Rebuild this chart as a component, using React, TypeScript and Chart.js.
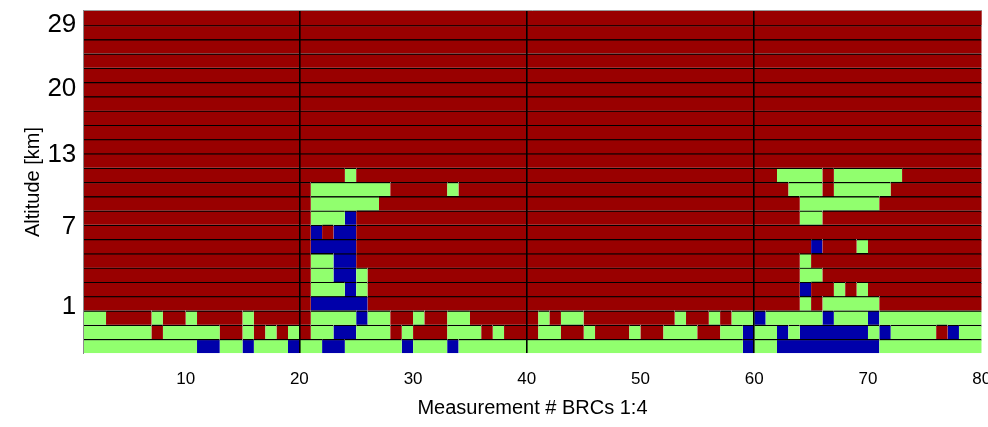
import React, { useEffect, useRef } from 'react';
import { Chart, registerables } from 'chart.js';

Chart.register(...registerables);

// ---- axis data ----
const measurementMin = 1;
const measurementMax = 80;
const xTickValues = [10, 20, 30, 40, 50, 60, 70, 80];
const xGridValues = [20, 40, 60];
const rowCount = 24;
const yTickValues = [3.28, 8.88, 13.89, 18.54, 22.98];
const yTickLabels = ['1', '7', '13', '20', '29'];

// ---- classes (cell colours) ----
const classCodes = ['R', 'G', 'B'];
const classNames = ['class R', 'class G', 'class B'];
const classColors = ['#990000', '#91FF6E', '#0000AA'];

// ---- cell runs per altitude row (bottom row first), code + number of measurements ----
const row00 = 'G10 B2 G2 B1 G3 B1 G2 B2 G5 B1 G3 B1 G25 B1 G2 B9 G9';
const row01 = 'G6 R1 G5 R2 G1 R1 G1 R1 G1 R1 G2 B2 G3 R1 G1 R3 G3 R1 G1 R3 G2 R2 G1 R3 G1 R2 G3 R2 G2 B1 G2 B1 G1 B6 G1 B1 G4 R1 B1 G2';
const row02 = 'G2 R4 G1 R2 G1 R4 G1 R5 G4 B1 G2 R2 G1 R2 G2 R6 G1 R1 G2 R8 G1 R2 G1 R1 G2 B1 G5 B1 G3 B1 G9';
const row03 = 'R20 B5 R38 G1 R1 G5 R9';
const row04 = 'R20 G3 B1 G1 R38 B1 R2 G1 R1 G1 R10';
const row05 = 'R20 G2 B2 G1 R38 G2 R14';
const row06 = 'R20 G2 B2 R39 G1 R15';
const row07 = 'R20 B4 R40 B1 R3 G1 R10';
const row08 = 'R20 B1 R1 B2 R55';
const row09 = 'R20 G3 B1 R39 G2 R14';
const row10 = 'R20 G6 R37 G7 R9';
const row11 = 'R20 G7 R5 G1 R29 G3 R1 G5 R8';
const row12 = 'R23 G1 R37 G4 R1 G6 R7';
const row13 = 'R79';
const row14 = 'R79';
const row15 = 'R79';
const row16 = 'R79';
const row17 = 'R79';
const row18 = 'R79';
const row19 = 'R79';
const row20 = 'R79';
const row21 = 'R79';
const row22 = 'R79';
const row23 = 'R79';

const rows = [
  row00, row01, row02, row03, row04, row05, row06, row07, row08, row09, row10, row11,
  row12, row13, row14, row15, row16, row17, row18, row19, row20, row21, row22, row23,
];

type Cell = { x: [number, number]; y: number };

function buildDatasets() {
  const perClass: Cell[][] = classCodes.map(() => []);
  rows.forEach((runs, r) => {
    let start = measurementMin;
    runs.split(' ').forEach((tok) => {
      const code = tok[0];
      const count = parseInt(tok.slice(1), 10);
      const k = classCodes.indexOf(code);
      perClass[k].push({ x: [start, start + count], y: r + 0.5 });
      start += count;
    });
  });
  return classCodes.map((_, k) => ({
    label: classNames[k],
    data: perClass[k],
    backgroundColor: classColors[k],
  }));
}

const FONT = '"Liberation Sans", Arial, Helvetica, sans-serif';

export default function App() {
  const ref = useRef<HTMLCanvasElement | null>(null);

  useEffect(() => {
    if (!ref.current) return;
    const chart = new Chart(ref.current, {
      type: 'bar',
      data: { datasets: buildDatasets() as any },
      options: {
        indexAxis: 'y',
        animation: false,
        responsive: false,
        devicePixelRatio: 1,
        layout: { padding: { top: 10.7, right: 6.3, left: 0, bottom: 0 } },
        plugins: { legend: { display: false }, tooltip: { enabled: false } },
        datasets: {
          bar: {
            grouped: false,
            categoryPercentage: 1,
            barPercentage: 1,
            borderSkipped: false,
            borderColor: '#000000',
            borderWidth: (ctx: any) => {
              const raw = ctx.raw as Cell | undefined;
              const top = raw && raw.y < rowCount - 1 ? 1.5 : 0;
              return { top, bottom: 0, left: 0, right: 0 };
            },
          } as any,
        },
        scales: {
          x: {
            type: 'linear',
            min: measurementMin,
            max: measurementMax,
            offset: false,
            afterBuildTicks: (s: any) => {
              s.ticks = xTickValues.map((v) => ({ value: v }));
            },
            afterFit: (s: any) => {
              s.height = 73.7;
              s.paddingLeft = 0;
              s.paddingRight = 0;
            },
            grid: {
              z: 1,
              drawTicks: false,
              offset: false,
              lineWidth: 1.6,
              color: (ctx: any) =>
                ctx.tick && xGridValues.includes(ctx.tick.value) ? '#000000' : 'rgba(0,0,0,0)',
            },
            border: { display: false },
            ticks: {
              autoSkip: false,
              maxRotation: 0,
              padding: 16,
              color: '#000000',
              font: { family: FONT, size: 17 },
            },
            title: {
              display: true,
              text: 'Measurement # BRCs 1:4',
              color: '#000000',
              font: { family: FONT, size: 20 },
              padding: { top: 0, bottom: 7 },
            },
          },
          xTop: {
            type: 'linear',
            position: 'top',
            min: measurementMin,
            max: measurementMax,
            offset: false,
            afterFit: (s: any) => {
              s.height = 0;
              s.paddingLeft = 0;
              s.paddingRight = 0;
            },
            grid: { display: false, drawTicks: false },
            border: { display: true, color: '#9a9a9a', width: 1, z: 1 },
            ticks: { display: false },
          },
          y: {
            type: 'linear',
            min: 0,
            max: rowCount,
            offset: false,
            afterBuildTicks: (s: any) => {
              s.ticks = yTickValues.map((v) => ({ value: v }));
            },
            afterFit: (s: any) => {
              s.width = 83.3;
              s.paddingTop = 0;
              s.paddingBottom = 0;
            },
            grid: { display: false, drawTicks: false, offset: false },
            border: { display: true, color: '#8a8a8a', width: 1, z: 1 },
            ticks: {
              autoSkip: false,
              padding: 7,
              color: '#000000',
              font: { family: FONT, size: 26 },
              callback: (value: any) => {
                const i = yTickValues.indexOf(Number(value));
                return i >= 0 ? yTickLabels[i] : '';
              },
            },
            title: {
              display: true,
              text: 'Altitude [km]',
              color: '#000000',
              font: { family: FONT, size: 20 },
              padding: { top: 21, bottom: 0 },
            },
          },
        },
      },
    });
    return () => chart.destroy();
  }, []);

  return (
    <div style={{ position: 'absolute', left: 0, top: 0, width: 988, height: 427, background: '#ffffff' }}>
      <canvas ref={ref} width={988} height={427} style={{ display: 'block' }} />
    </div>
  );
}
